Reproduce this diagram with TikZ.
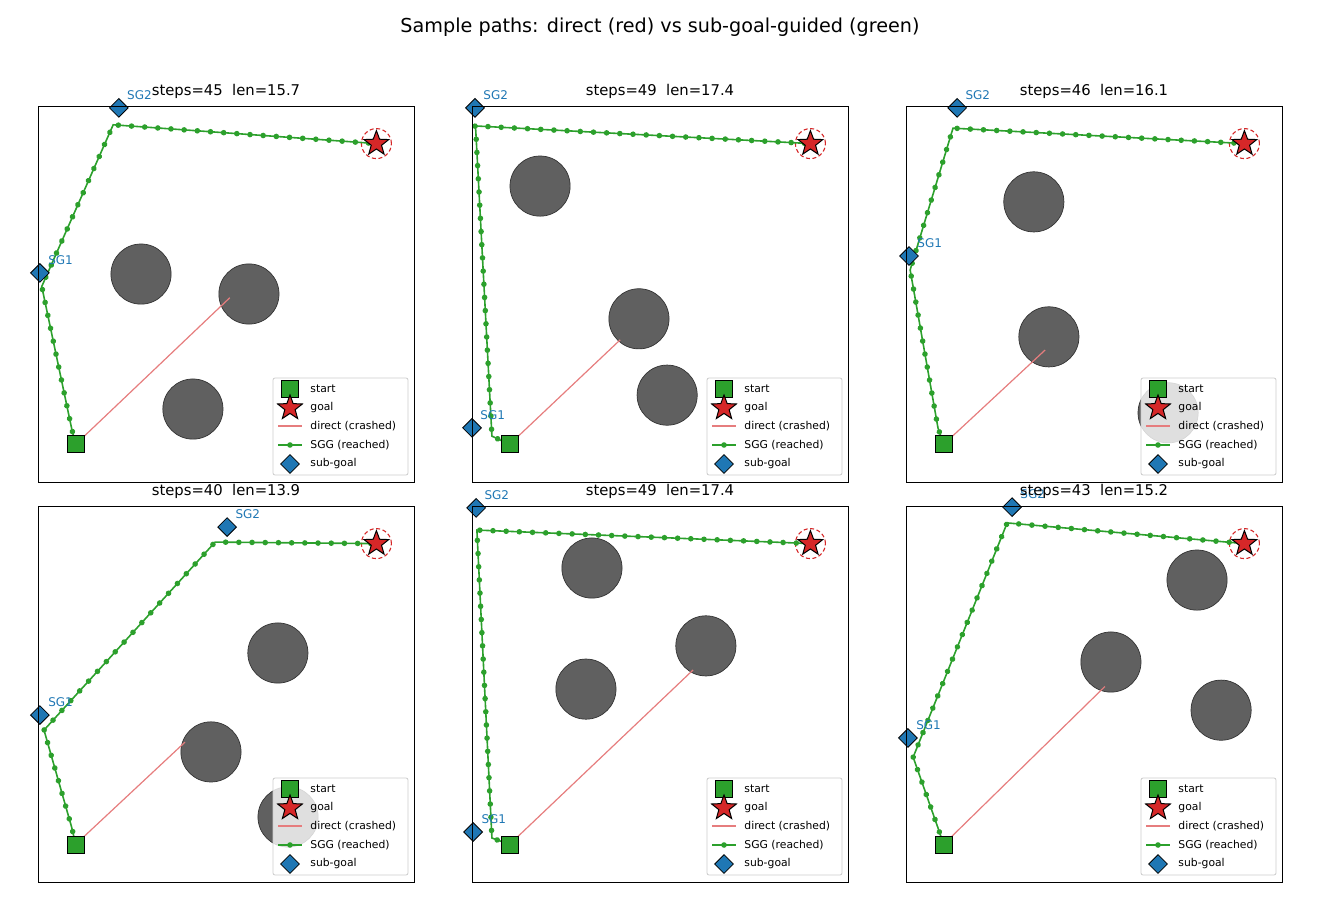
\documentclass[tikz,border=0pt]{standalone}
\usepackage{fontspec}
\setmainfont{DejaVu Sans}
\usetikzlibrary{shapes.geometric,decorations.markings}
\definecolor{sggreen}{HTML}{2CA02C}
\definecolor{goalred}{HTML}{D62728}
\definecolor{sgblue}{HTML}{1F77B4}
\definecolor{obst}{HTML}{606060}
\tikzset{
  obstacle/.style={fill=obst,draw=black!80,line width=0.35pt},
  direct/.style={draw=goalred!60,line width=0.6pt},
  sgg/.style={draw=sggreen,line width=0.8pt,postaction={decorate},
    decoration={markings,mark=between positions 0 and 1 step 6.6pt with {\fill[sggreen] (0,0) circle (1.4pt);}}},
  startmk/.style={rectangle,fill=sggreen,draw=black,line width=0.4pt,minimum size=8.5pt,inner sep=0pt},
  goalmk/.style={star,star points=5,star point ratio=2.4,fill=goalred,draw=black,line width=0.5pt,minimum size=13pt,inner sep=0pt},
  goalring/.style={circle,draw=goalred,dashed,dash pattern=on 2pt off 1.3pt,line width=0.55pt,minimum size=15pt,inner sep=0pt},
  subgoal/.style={diamond,fill=sgblue,draw=black,line width=0.4pt,minimum size=9.5pt,inner sep=0pt},
  sglabel/.style={text=sgblue,font=\fontsize{6}{7}\selectfont,anchor=west,inner sep=0pt},
  legtext/.style={font=\fontsize{5.4}{6}\selectfont,anchor=west,inner sep=0pt},
  ptitle/.style={font=\fontsize{7.4}{8}\selectfont,inner sep=0pt}
}
% #1 xshift #2 yshift #3 title #4 obstacles #5 SG1 #6 SG2 #7 waypoints #8 red end
\newcommand\sgpanel[8]{%
\begin{scope}[xshift=#1,yshift=#2,x=18.8pt,y=18.8pt]
  \foreach \c in {#4} {\fill[obstacle] (\c) circle (0.8);}
  \node[startmk] (start) at (1,1) {};
  \node[goalring] (ring) at (9,9) {};
  \coordinate (goal) at (9,9);
  \draw[direct] (start.center) -- (#8);
  \draw[sgg] (start.center) \foreach \p in {#7} {-- (\p)} -- (goal);
  \node[startmk] at (start) {};
  \node[goalmk] at (goal) {};
  \node[subgoal] (sg1) at (#5) {};
  \node[subgoal] (sg2) at (#6) {};
  \node[sglabel] at ([shift={(4pt,6.5pt)}]sg1.center) {SG1};
  \node[sglabel] at ([shift={(4pt,6.5pt)}]sg2.center) {SG2};
  % legend
  \fill[white,opacity=0.8] (117.5pt,3.5pt) rectangle (185pt,52pt);
  \draw[black!20,line width=0.4pt,rounded corners=1pt] (117.5pt,3.5pt) rectangle (185pt,52pt);
  \node[startmk] at (126pt,46.5pt) {};
  \node[goalmk] at (126pt,37pt) {};
  \draw[direct] (120pt,28pt) -- (132pt,28pt);
  \draw[sggreen,line width=0.8pt] (120pt,18.5pt) -- (132pt,18.5pt);
  \fill[sggreen] (126pt,18.5pt) circle (1.4pt);
  \node[subgoal] at (126pt,9pt) {};
  \node[legtext] at (136pt,46.5pt) {start};
  \node[legtext] at (136pt,37pt) {goal};
  \node[legtext] at (136pt,28pt) {direct (crashed)};
  \node[legtext] at (136pt,18.5pt) {SGG (reached)};
  \node[legtext] at (136pt,9pt) {sub-goal};
  \draw[line width=0.4pt] (0,0) rectangle (10,10);
  \node[ptitle] at (94pt,195.5pt) {#3};
\end{scope}}
\begin{document}
\begin{tikzpicture}[x=0.5pt,y=0.5pt]
  \useasboundingbox (0,0) rectangle (1320,900);
  \node[font=\fontsize{9.6}{11}\selectfont] (suptitle) at (660,873) {Sample paths: direct (red) vs sub-goal-guided (green)};
  \sgpanel{19pt}{209pt}{steps=45\ \ len=15.7}{{2.74,5.53},{5.61,5.0},{4.12,1.94}}{0.05,5.56}{2.15,9.95}{{0.9,1.4},{0.1,5.2},{2.0,9.5}}{5.1,4.9}
  \sgpanel{236pt}{209pt}{steps=49\ \ len=17.4}{{1.81,7.87},{4.44,4.34},{5.19,2.31}}{0,1.44}{0.08,9.95}{{0.53,1.22},{0.1,9.35},{0.08,9.47}}{3.94,3.78}
  \sgpanel{453pt}{209pt}{steps=46\ \ len=16.1}{{3.40,7.45},{3.80,3.86},{6.97,1.84}}{0.08,6.01}{1.36,9.95}{{0.85,1.44},{0.11,5.64},{1.25,9.41}}{3.70,3.51}
  \sgpanel{19pt}{9pt}{steps=40\ \ len=13.9}{{6.38,6.09},{4.60,3.46},{6.65,1.73}}{0.05,4.44}{5.03,9.44}{{0.9,1.44},{0.16,4.04},{4.71,9.04}}{3.91,3.72}
  \sgpanel{236pt}{9pt}{steps=49\ \ len=17.4}{{3.19,8.35},{6.22,6.28},{3.03,5.13}}{0.03,1.33}{0.11,9.95}{{0.53,1.17},{0.13,9.36}}{5.88,5.64}
  \sgpanel{453pt}{9pt}{steps=43\ \ len=15.2}{{7.74,8.03},{5.45,5.85},{8.38,4.57}}{0.05,3.83}{2.82,9.97}{{0.85,1.44},{0.19,3.32},{2.69,9.55}}{5.29,5.2}
\end{tikzpicture}
\end{document}
